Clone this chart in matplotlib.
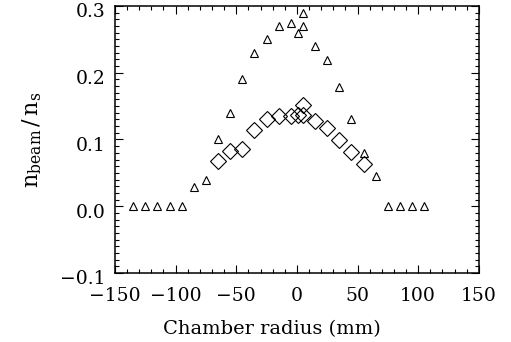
import matplotlib
matplotlib.use("Agg")
import matplotlib.pyplot as plt
from matplotlib.ticker import MultipleLocator, FuncFormatter
from matplotlib.transforms import ScaledTranslation

# Data
x_tri = [-135, -125, -115, -105, -95, -85, -75, -65, -55, -45, -35, -25, -15, -5,
         1, 5, 5, 15, 25, 35, 45, 55, 65, 75, 85, 95, 105]
y_tri = [0.0, 0.0, 0.0, 0.0, 0.0, 0.029, 0.039, 0.100, 0.140, 0.190, 0.230, 0.250,
         0.270, 0.275, 0.260, 0.290, 0.270, 0.240, 0.219, 0.179, 0.130, 0.080,
         0.045, 0.0, 0.0, 0.0, 0.0]

x_dia = [-65, -55, -45, -35, -25, -15, -5, 1, 5, 5, 15, 25, 35, 45, 55]
y_dia = [0.068, 0.083, 0.085, 0.114, 0.130, 0.135, 0.135, 0.137, 0.137, 0.152,
         0.127, 0.117, 0.099, 0.081, 0.063]

x_ticks = [-150, -100, -50, 0, 50, 100, 150]
y_ticks = [-0.1, 0.0, 0.1, 0.2, 0.3]

plt.rcParams['font.family'] = ['DejaVu Serif']
plt.rcParams['mathtext.fontset'] = 'dejavuserif'

fig = plt.figure(figsize=(5.11, 3.42), dpi=100)
ax = fig.add_axes([0.225, 0.2018, 0.712, 0.7807])

ax.plot(x_tri, y_tri, linestyle='none', marker='^', markersize=5.2,
        markerfacecolor='none', markeredgecolor='black', markeredgewidth=0.8)
ax.plot(x_dia, y_dia, linestyle='none', marker='D', markersize=8.6,
        markerfacecolor='none', markeredgecolor='black', markeredgewidth=0.8)

ax.set_xlim(-150, 150)
ax.set_ylim(-0.1, 0.3)
ax.set_xticks(x_ticks)
ax.set_yticks(y_ticks)
ax.xaxis.set_minor_locator(MultipleLocator(10))
ax.yaxis.set_minor_locator(MultipleLocator(0.01))
ax.yaxis.set_major_formatter(FuncFormatter(lambda v, p: f'{v:.1f}'.replace('-', '\u2212')))

ax.tick_params(which='both', direction='in', top=True, right=True,
               labelsize=13.5, width=0.8)
ax.tick_params(which='major', length=6)
ax.tick_params(axis='y', which='major', pad=7)
ax.tick_params(axis='x', which='major', pad=10)
ax.tick_params(which='minor', length=3)
for s in ax.spines.values():
    s.set_linewidth(1.1)

# y tick labels sit slightly below their ticks in the reference
shift = ScaledTranslation(0, -4.5 / 100, fig.dpi_scale_trans)
for t in ax.yaxis.get_major_ticks():
    t.label1.set_transform(t.label1.get_transform() + shift)

ax.set_xlabel('Chamber radius (mm)', fontsize=14)
ax.xaxis.set_label_coords(0.431, -0.175)
ax.set_ylabel(r'$\mathregular{n_{beam}\,/\,n_s}$', fontsize=16, labelpad=11)

fig.savefig('out.png', dpi=100)
